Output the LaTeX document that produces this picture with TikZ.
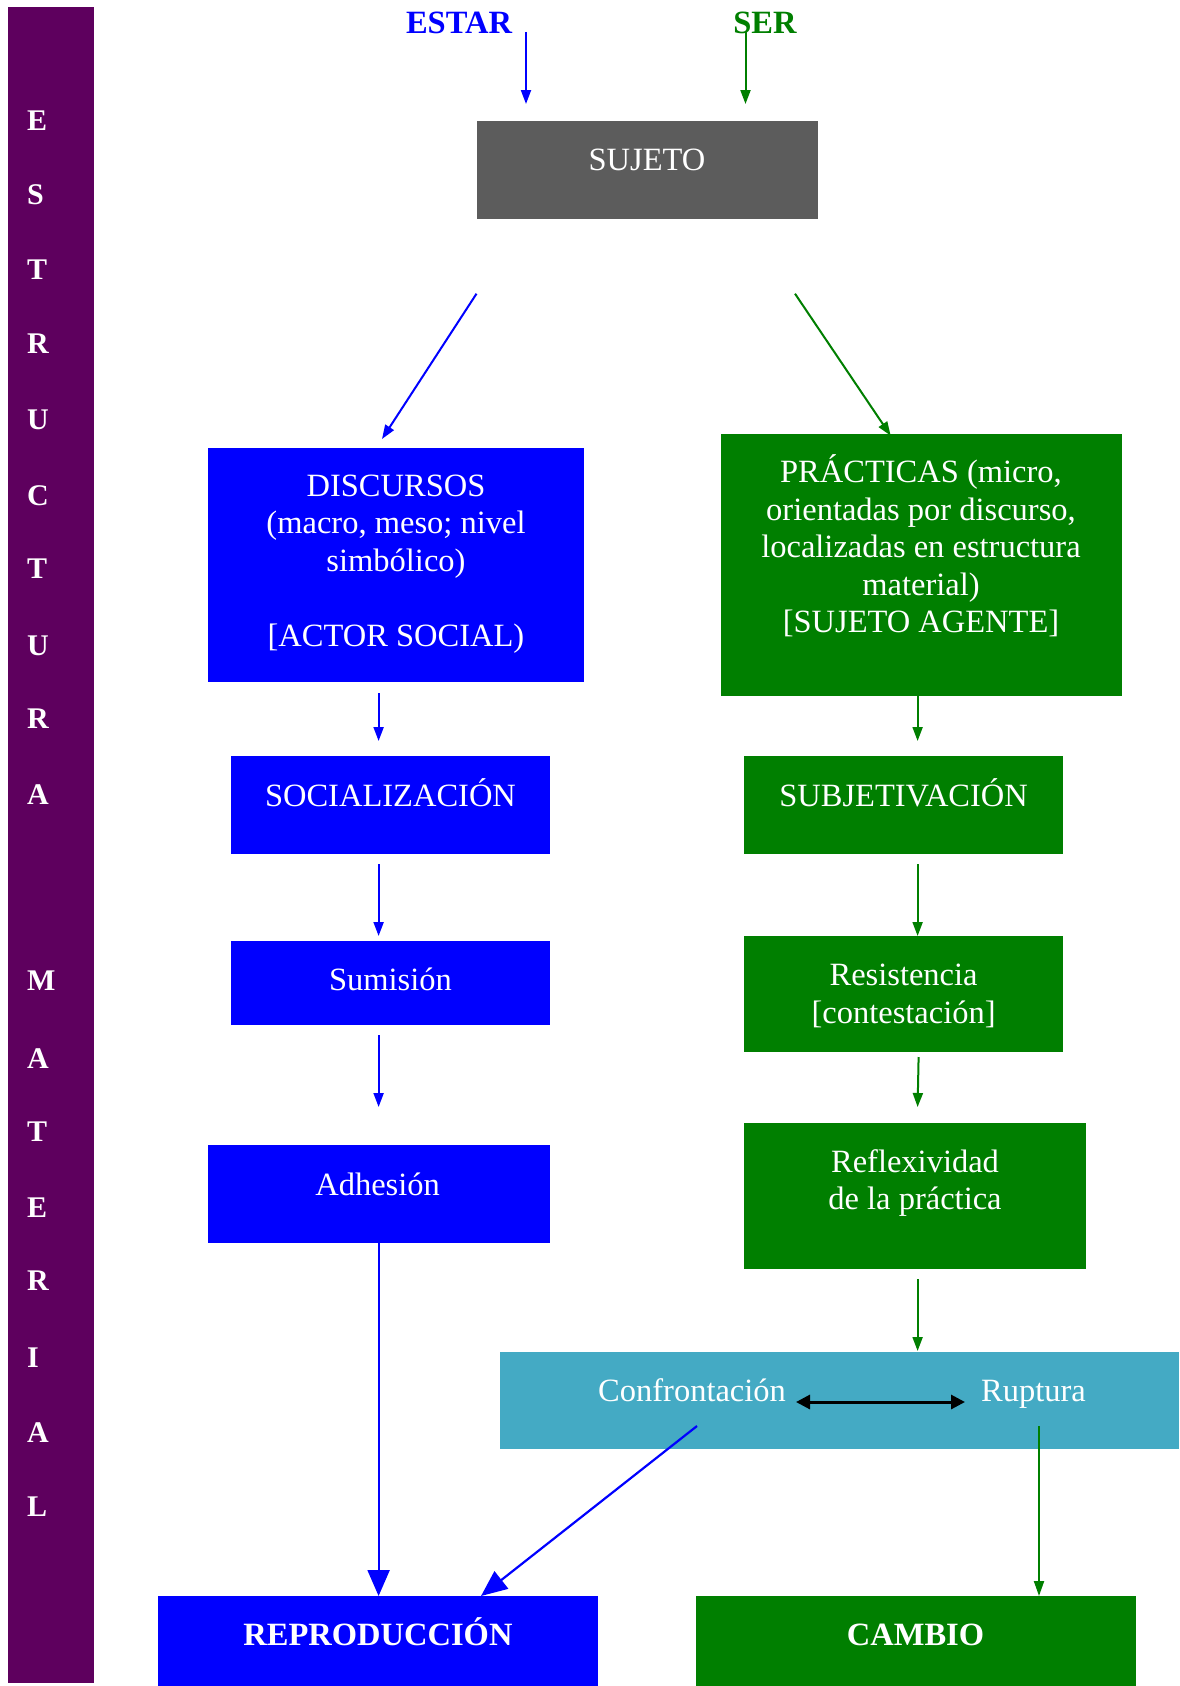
\documentclass[tikz,border=0pt]{standalone}
\usepackage{fontspec}
\setmainfont{Liberation Serif}
\usetikzlibrary{arrows.meta}
\definecolor{purp}{RGB}{94,0,94}
\definecolor{bblue}{RGB}{0,0,255}
\definecolor{bgreen}{RGB}{0,127,0}
\definecolor{teal2}{RGB}{68,170,196}
\definecolor{gray2}{RGB}{92,92,92}
\begin{document}
\begin{tikzpicture}[x=1pt,y=-1pt,
  box/.style={draw=none,inner sep=0pt,outer sep=0pt,anchor=center},
  txt/.style={text=white,align=center,inner sep=0pt,font=\fontsize{32.5}{37.5}\selectfont},
  btxt/.style={text=white,align=center,inner sep=0pt,font=\fontsize{32.5}{37.5}\selectfont\bfseries},
  letter/.style={text=white,anchor=west,inner sep=0pt,font=\fontsize{30}{34}\selectfont\bfseries},
  barrow/.style={draw=bblue,line width=2pt,-{Triangle[length=14pt,width=10pt]}},
  garrow/.style={draw=bgreen,line width=2pt,-{Triangle[length=14pt,width=10pt]}},
  bigbarrow/.style={draw=bblue,line width=2.2pt,-{Triangle[length=26pt,width=22pt]}},
  biggarrow/.style={draw=bgreen,line width=2pt,-{Triangle[length=15pt,width=10pt]}},
  darrow/.style={draw=black,line width=3pt,{Triangle[length=14pt,width=14pt]}-{Triangle[length=14pt,width=14pt]}}
]
\useasboundingbox (0,0) rectangle (1179,1686);
\fill[white] (0,0) rectangle (1179,1686);

% purple bar
\node[box,fill=purp,minimum width=86pt,minimum height=1676pt] (bar) at (50.5,845) {};
\foreach \l/\yy [count=\i] in {E/120.5,S/194.7,T/270,R/344,U/419.5,C/496,T/569,U/645.4,R/718.6,A/795,M/981,A/1058.5,T/1131.6,E/1208,R/1281,I/1357.5,A/1433,L/1507}
  \node[letter] (L\i) at (27,\yy) {\l};

% top labels
\node[inner sep=0pt,text=bblue,font=\fontsize{32.5}{37.5}\selectfont\bfseries] (estar) at (459,23) {ESTAR};
\node[inner sep=0pt,text=bgreen,font=\fontsize{32.5}{37.5}\selectfont\bfseries] (ser) at (765,23) {SER};

% boxes
\node[box,fill=gray2,minimum width=341pt,minimum height=98pt] (suj) at (647,169.5) {};
\node[txt] (sujT) at (647,160) {SUJETO};

\node[box,fill=bblue,minimum width=376.4pt,minimum height=234.5pt] (disc) at (395.8,564.8) {};
\node[txt] (discT) at (396,564) {DISCURSOS\\(macro, meso; nivel\\simbólico)\\[37.5pt]{[ACTOR SOCIAL)}};

\node[box,fill=bgreen,minimum width=401.3pt,minimum height=262.5pt] (prac) at (921.4,564.8) {};
\node[txt] (pracT) at (921,546) {PRÁCTICAS (micro,\\orientadas por discurso,\\localizadas en estructura\\material)\\{[SUJETO AGENTE]}};

\node[box,fill=bblue,minimum width=318.7pt,minimum height=98pt] (soc) at (390.4,805) {};
\node[txt] (socT) at (390.5,793) {SOCIALIZACIÓN};

\node[box,fill=bgreen,minimum width=319pt,minimum height=98pt] (subj) at (903.5,805) {};
\node[txt] (subjT) at (903.6,793) {SUBJETIVACIÓN};

\node[box,fill=bblue,minimum width=318.7pt,minimum height=84pt] (sum) at (390.4,983) {};
\node[txt] (sumT) at (390.5,979) {Sumisión};

\node[box,fill=bgreen,minimum width=319pt,minimum height=116pt] (res) at (903.5,994) {};
\node[txt] (resT) at (903.6,996) {Resistencia\\{[contestación]}};

\node[box,fill=bblue,minimum width=342pt,minimum height=98pt] (adh) at (378.6,1193.5) {};
\node[txt] (adhT) at (377.6,1184) {Adhesión};

\node[box,fill=bgreen,minimum width=342.5pt,minimum height=146pt] (refl) at (915.2,1196) {};
\node[txt] (reflT) at (915,1183) {Reflexividad\\de la práctica};

\node[box,fill=teal2,minimum width=679pt,minimum height=97pt] (conf) at (839.5,1400.5) {};
\node[txt,anchor=west] (confT) at (598,1390) {Confrontación};
\node[txt,anchor=west] (rupT) at (981,1394) {Ruptura};

\node[box,fill=bblue,minimum width=440pt,minimum height=92pt] (rep) at (378,1642) {};
\node[btxt] (repT) at (378,1632) {REPRODUCCIÓN};

\node[box,fill=bgreen,minimum width=440pt,minimum height=92pt] (cam) at (916,1642) {};
\node[btxt] (camT) at (915.5,1635) {CAMBIO};

% free-end coordinates
\coordinate (e1) at (526,32);   \coordinate (e2) at (526,104);
\coordinate (s1) at (745.5,32); \coordinate (s2) at (745.5,104);
\coordinate (d1) at (476.5,293.7); \coordinate (d2) at (382,439);
\coordinate (p1) at (795,293.7);   \coordinate (p2) at (890.7,435.7);
\coordinate (b1) at (378.6,693);   \coordinate (b2) at (378.6,741);
\coordinate (g1) at (917.6,696);   \coordinate (g2) at (917.6,741);
\coordinate (b3) at (378.6,864);   \coordinate (b4) at (378.6,936);
\coordinate (g3) at (917.6,864);   \coordinate (g4) at (917.6,936);
\coordinate (b5) at (378.6,1035);  \coordinate (b6) at (378.6,1107);
\coordinate (g5) at (918.6,1057);  \coordinate (g6) at (917.6,1107);
\coordinate (g7) at (917.6,1279);  \coordinate (g8) at (917.6,1351);
\coordinate (c1) at (697,1426);    \coordinate (c2) at (481,1596);
\coordinate (r1) at (1039,1426);   \coordinate (r2) at (1039,1596);
\coordinate (x1) at (796,1402);    \coordinate (x2) at (965,1402);

% connectors
\draw[barrow] (e1) -- (e2);
\draw[garrow] (s1) -- (s2);
\draw[barrow] (d1) -- (d2);
\draw[garrow] (p1) -- (p2);
\draw[barrow] (b1) -- (b2);
\draw[garrow] (g1) -- (g2);
\draw[barrow] (b3) -- (b4);
\draw[garrow] (g3) -- (g4);
\draw[barrow] (b5) -- (b6);
\draw[garrow] (g5) -- (g6);
\draw[garrow] (g7) -- (g8);
\draw[bigbarrow] (adh.south) -- (adh.south |- rep.north);
\draw[bigbarrow] (c1) -- (c2);
\draw[biggarrow] (r1) -- (r2);
\draw[darrow] (x1) -- (x2);
\end{tikzpicture}
\end{document}
